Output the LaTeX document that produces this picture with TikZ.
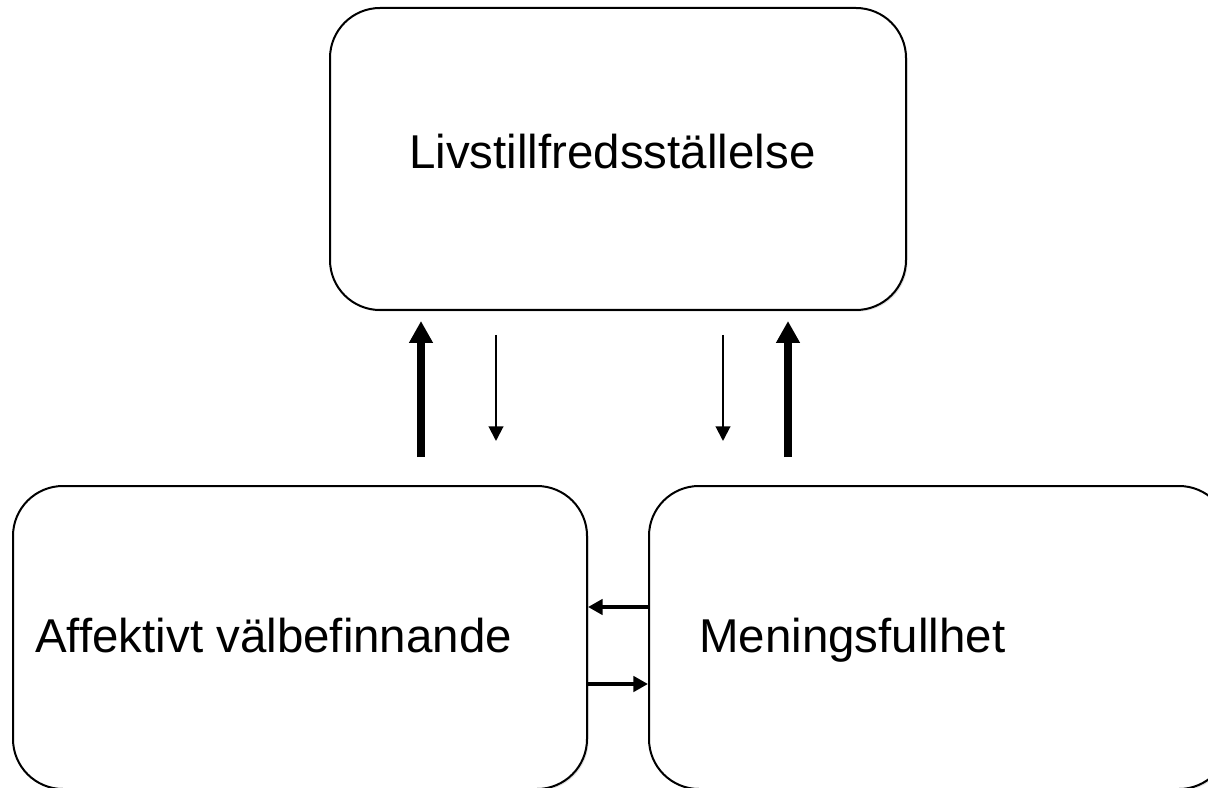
\documentclass[tikz,border=0pt]{standalone}
\usepackage{fontspec}
\setmainfont{Liberation Sans}
\usetikzlibrary{arrows.meta,shadows}
\begin{document}
\begin{tikzpicture}[x=0.75pt,y=-0.75pt,
  box/.style={draw=black, line width=1.5pt, rounded corners=37.5pt, fill=white,
    drop shadow={shadow xshift=1.2pt, shadow yshift=-1.2pt, fill=black, opacity=0.12},
    inner sep=0pt},
  lbl/.style={inner sep=0pt, anchor=base west, font=\fontsize{35.6pt}{43pt}\selectfont},
  bigup/.style={line width=6pt, -{Triangle[width=17pt,length=16.5pt]}},
  thindown/.style={line width=1.5pt, -{Triangle[width=11pt,length=11pt]}},
  side/.style={line width=3.4pt, -{Triangle[width=11.5pt,length=11pt]}}]
\useasboundingbox (0,0) rectangle (1208,788);
\fill[white] (0,0) rectangle (1208,788);
% boxes
\node[box, minimum width=432pt, minimum height=226.5pt] (top) at (618,159) {};
\node[box, minimum width=430.5pt, minimum height=227.25pt] (bl) at (300,637.5) {};
\node[box, minimum width=435pt, minimum height=227.25pt] (br) at (939,637.5) {};
% labels
\node[lbl] (ttop) at (409,169) {Livstillfredsställelse};
\node[lbl] (tbl) at (35,652) {Affektivt välbefinnande};
\node[lbl] (tbr) at (699,652) {Meningsfullhet};
% vertical arrows
\coordinate (a1s) at (421,457);
\coordinate (a1e) at (421,321);
\coordinate (a2s) at (496,335);
\coordinate (a2e) at (496,441);
\coordinate (a3s) at (723,335);
\coordinate (a3e) at (723,441);
\coordinate (a4s) at (788,457);
\coordinate (a4e) at (788,321);
\draw[bigup] (a1s) -- (a1e);
\draw[thindown] (a2s) -- (a2e);
\draw[thindown] (a3s) -- (a3e);
\draw[bigup] (a4s) -- (a4e);
% horizontal arrows
\draw[side] (br.west |- 0,607) -- (bl.east |- 0,607);
\draw[side] (bl.east |- 0,684) -- (br.west |- 0,684);
\end{tikzpicture}
\end{document}
